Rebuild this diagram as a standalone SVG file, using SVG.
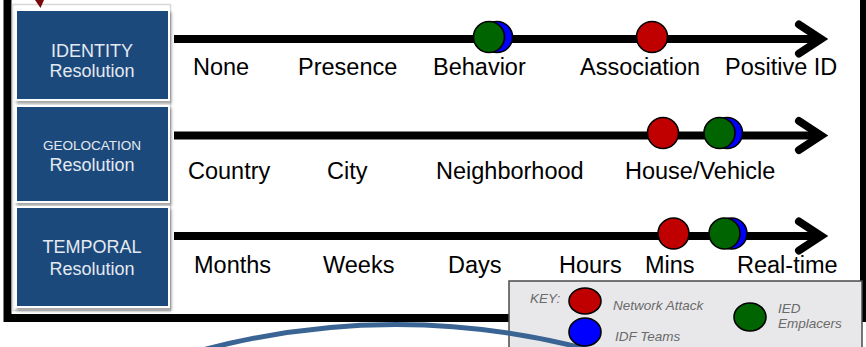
<svg xmlns="http://www.w3.org/2000/svg" width="866" height="347" viewBox="0 0 866 347">
<defs>
<style>
.box{fill:#1f487b;stroke:#ffffff;stroke-width:2}
.bt{font-family:"Liberation Sans",Arial,sans-serif;fill:#e4e9f1;text-anchor:middle}
.lab{font-family:"Liberation Sans",Arial,sans-serif;font-size:23.5px;fill:#000}
.axis{stroke:#000;stroke-width:8;fill:none}
.head{stroke:#000;stroke-width:8;fill:none;stroke-linecap:round;stroke-linejoin:miter}
.dot{stroke:#000;stroke-width:1.6}
.red{fill:#c00000}
.grn{fill:#006400}
.blu{fill:#0000ff}
.key{font-family:"Liberation Sans",Arial,sans-serif;font-size:13.5px;font-style:italic;fill:#6a6a6a}
</style>
<filter id="sh" x="-10%" y="-10%" width="130%" height="130%">
<feDropShadow dx="1.5" dy="3" stdDeviation="1.5" flood-color="#000" flood-opacity="0.35"/>
</filter>
</defs>
<rect x="0" y="0" width="866" height="347" fill="#ffffff"/>
<g id="frame">
<polyline points="7.5,-10 7.5,318 864,318 864,-10" fill="none" stroke="#000" stroke-width="8"/>
<rect x="12.5" y="4.5" width="158" height="306" fill="#fff" stroke="#d8d8d8" stroke-width="1.5"/>
<polygon points="35,0 44,0 40.5,8" fill="#7a0a0a"/>
</g>
<g id="identity-box">
<rect class="box" x="16" y="10" width="153" height="90" filter="url(#sh)"/>
<text class="bt" x="92" y="57" font-size="18">IDENTITY</text>
<text class="bt" x="92" y="77" font-size="18">Resolution</text>
</g>
<g id="geolocation-box">
<rect class="box" x="16" y="106" width="153" height="96" filter="url(#sh)"/>
<text class="bt" x="92" y="150" font-size="13.5">GEOLOCATION</text>
<text class="bt" x="92" y="171" font-size="18">Resolution</text>
</g>
<g id="temporal-box">
<rect class="box" x="16" y="207" width="153" height="100" filter="url(#sh)"/>
<text class="bt" x="92" y="253" font-size="18">TEMPORAL</text>
<text class="bt" x="92" y="275" font-size="18">Resolution</text>
</g>
<g id="connectors">
<line class="axis" x1="174" y1="39" x2="818" y2="39"/>
<polyline class="head" points="799,24.5 821,39 799,53.5"/>
<line class="axis" x1="174" y1="135.5" x2="818" y2="135.5"/>
<polyline class="head" points="799,121 821,135.5 799,150"/>
<line class="axis" x1="174" y1="236" x2="818" y2="236"/>
<polyline class="head" points="799,221.5 821,236 799,250.5"/>
</g>
<g id="identity-labels">
<text class="lab" x="193" y="75">None</text>
<text class="lab" x="298" y="75">Presence</text>
<text class="lab" x="433" y="75">Behavior</text>
<text class="lab" x="580" y="75">Association</text>
<text class="lab" x="725" y="75">Positive ID</text>
</g>
<g id="geolocation-labels">
<text class="lab" x="188" y="179">Country</text>
<text class="lab" x="327" y="179">City</text>
<text class="lab" x="436" y="179">Neighborhood</text>
<text class="lab" x="625" y="179">House/Vehicle</text>
</g>
<g id="temporal-labels">
<text class="lab" x="194" y="273">Months</text>
<text class="lab" x="323" y="273">Weeks</text>
<text class="lab" x="448" y="273">Days</text>
<text class="lab" x="559" y="273">Hours</text>
<text class="lab" x="645" y="273">Mins</text>
<text class="lab" x="737" y="273">Real-time</text>
</g>
<g id="identity-dots">
<circle class="dot blu" cx="497" cy="37" r="15.5"/>
<circle class="dot grn" cx="489" cy="37" r="15.5"/>
<circle class="dot red" cx="652" cy="37" r="15.5"/>
</g>
<g id="geolocation-dots">
<circle class="dot red" cx="663" cy="133" r="15.5"/>
<circle class="dot blu" cx="727" cy="133" r="15.5"/>
<circle class="dot grn" cx="719.5" cy="133" r="15.5"/>
</g>
<g id="temporal-dots">
<circle class="dot red" cx="673.5" cy="233.5" r="15.5"/>
<circle class="dot blu" cx="731.5" cy="233.5" r="15.5"/>
<circle class="dot grn" cx="724.5" cy="233.5" r="15.5"/>
</g>
<g id="key">
<rect x="509" y="281" width="353" height="80" fill="#e8e8ea" stroke="#4a4a4a" stroke-width="1.5"/>
<path d="M195,352 Q392,298 590,350" fill="none" stroke="#3a6494" stroke-width="5"/>
<text class="key" x="530" y="303">KEY:</text>
<ellipse class="dot red" cx="585" cy="301" rx="16" ry="13"/>
<ellipse class="dot blu" cx="585" cy="332" rx="16" ry="14"/>
<ellipse class="dot grn" cx="750" cy="317" rx="16" ry="14"/>
<text class="key" x="613" y="310">Network Attack</text>
<text class="key" x="615" y="341">IDF Teams</text>
<text class="key" x="778" y="313">IED</text>
<text class="key" x="778" y="328">Emplacers</text>
</g>
</svg>
